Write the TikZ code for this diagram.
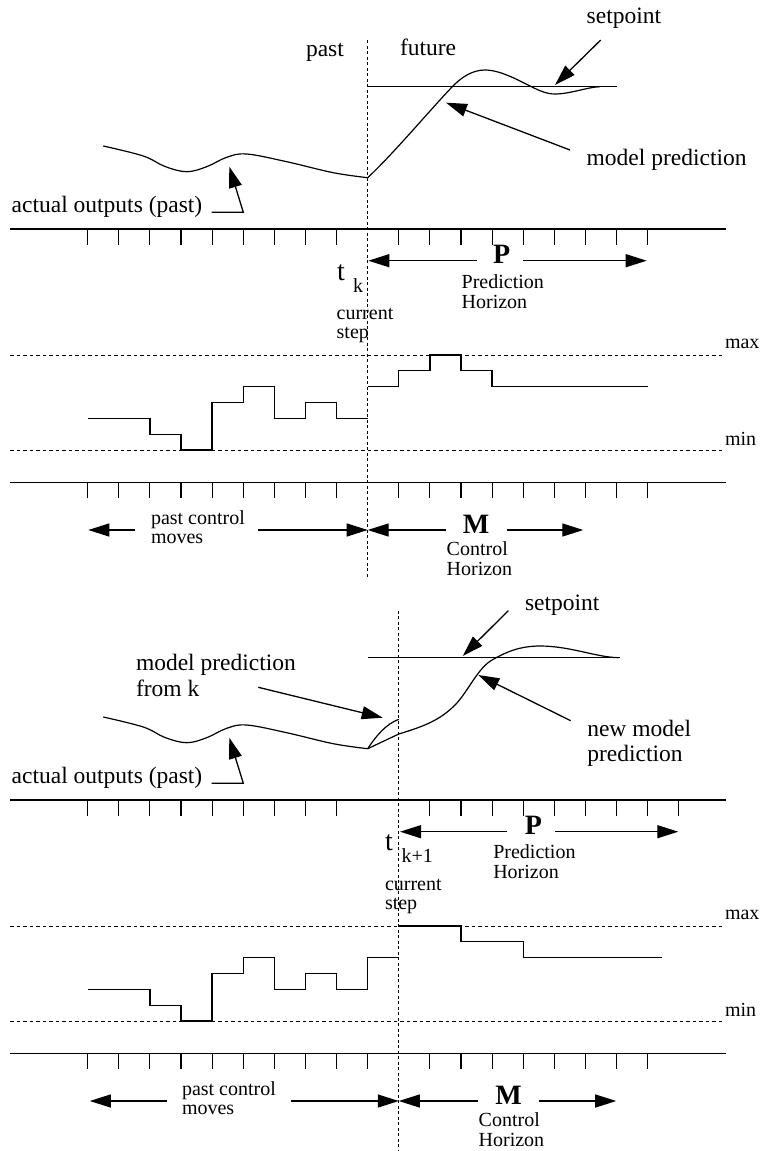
\documentclass[tikz,border=0pt]{standalone}
\usepackage{fontspec}
\setmainfont{Liberation Serif}
\usetikzlibrary{arrows.meta}
\begin{document}
\begin{tikzpicture}[x=1pt,y=-1pt,
  lbl/.style={inner sep=0pt,outer sep=0pt,anchor=base west},
  biglbl/.style={lbl,font=\fontsize{23.5}{26}\selectfont},
  smalllbl/.style={lbl,font=\fontsize{20}{22}\selectfont},
  tlbl/.style={lbl,font=\fontsize{28}{30}\selectfont},
  boldlbl/.style={inner sep=0pt,anchor=base,font=\fontsize{28}{30}\selectfont\bfseries},
  curve/.style={line width=1.2pt},
  axisline/.style={line width=1.5pt},
  tick/.style={line width=1.1pt},
  stair/.style={line width=1.3pt},
  nowline/.style={line width=1pt,dash pattern=on 3pt off 2.5pt},
  limitline/.style={line width=1pt,dash pattern=on 3.5pt off 3pt},
  arr/.style={line width=1.3pt,-{Triangle[length=21pt,width=13pt]}}
]
\useasboundingbox (0,0) rectangle (761,1151);

% ================= PANEL 1 =================
\coordinate (n1top) at (367.7,40);
\coordinate (n1bot) at (367.7,578);
\draw[nowline] (n1top) -- (n1bot);

\node[biglbl] (past1) at (306,56.7) {past};
\node[biglbl] (future1) at (400,55) {future};

% setpoint line
\coordinate (sp1a) at (367.7,86.7);
\coordinate (sp1b) at (616.7,86.7);
\draw[curve] (sp1a) -- (sp1b);

% past output curve
\draw[curve] plot[smooth,tension=0.6] coordinates {(103.3,146) (143.3,156) (165,166.5) (186.7,171.7) (206.7,166.7) (226.7,157.3) (246.7,154) (286.7,161.7) (333.3,172.7) (367.7,177.7)};
% model prediction
\draw[curve] (367.7,177.7) .. controls (395,152) and (430,110) .. (452,87)
  .. controls (462,76.5) and (473,70) .. (485,70)
  .. controls (500,70) and (518,80) .. (532,87)
  .. controls (540,91) and (547,94) .. (555,94)
  .. controls (570,94) and (588,87) .. (600,86.7);

\node[biglbl] (setp1) at (586.7,23.3) {setpoint};
\coordinate (setp1s) at (600.7,40);
\coordinate (setp1t) at (555,85);
\draw[arr] (setp1s) -- (setp1t);

\node[biglbl] (mp1) at (586.7,165.7) {model prediction};
\coordinate (mp1s) at (570,150);
\coordinate (mp1t) at (446,102.7);
\draw[arr] (mp1s) -- (mp1t);

\node[biglbl] (ao1) at (11.7,212.3) {actual outputs (past)};
\coordinate (ao1a) at (211.7,212.3);
\coordinate (ao1b) at (243.3,212.3);
\coordinate (ao1t) at (229.3,166.7);
\draw[arr] (ao1a) -- (ao1b) -- (ao1t);

% time axis
\coordinate (ax1a) at (10,229);
\coordinate (ax1b) at (726,229);
\draw[axisline] (ax1a) -- (ax1b);
\foreach \k in {0,...,8,10,11,...,18}
  \draw[tick] ({87.7+31.11*\k},229) -- ({87.7+31.11*\k},245);

\node[tlbl] (t1) at (337,280) {t};
\node[smalllbl] (k1) at (353,292.7) {k};
\node[smalllbl] (cur1) at (336.7,319) {current};
\node[smalllbl] (stp1) at (336.7,338) {step};

\node[boldlbl] (P1) at (501.7,263.5) {P};
\coordinate (P1l) at (476.7,260.7);
\coordinate (P1lt) at (368.3,260.7);
\coordinate (P1r) at (522.7,260.7);
\coordinate (P1rt) at (646.7,260.7);
\draw[arr] (P1l) -- (P1lt);
\draw[arr] (P1r) -- (P1rt);
\node[smalllbl] (ph1a) at (461.7,288.3) {Prediction};
\node[smalllbl] (ph1b) at (461.7,308) {Horizon};

% limits
\draw[limitline] (10,355) coordinate (mx1a) -- (725,355) coordinate (mx1b);
\draw[limitline] (10,450) coordinate (mn1a) -- (725,450) coordinate (mn1b);
\node[smalllbl] (max1) at (725,348.3) {max};
\node[smalllbl] (min1) at (725,445) {min};

% control moves
\draw[stair] (87.7,418.3) -- (149.9,418.3) -- (149.9,434.2) -- (181,434.2) -- (181,450) -- (212.1,450) -- (212.1,402.5) -- (243.2,402.5) -- (243.2,386.7) -- (274.4,386.7) -- (274.4,418.3) -- (305.5,418.3) -- (305.5,402.5) -- (336.6,402.5) -- (336.6,418.3) -- (367.7,418.3);
\draw[stair] (367.7,386.7) -- (398.8,386.7) -- (398.8,370.8) -- (429.9,370.8) -- (429.9,355) -- (461,355) -- (461,370.8) -- (492.1,370.8) -- (492.1,386.7) -- (647.7,386.7);

\coordinate (cx1a) at (10,482.3);
\coordinate (cx1b) at (726,482.3);
\draw[axisline] (cx1a) -- (cx1b);
\foreach \k in {0,...,8,10,11,...,18}
  \draw[tick] ({87.7+31.11*\k},482.3) -- ({87.7+31.11*\k},498);

\node[smalllbl] (pcm1a) at (151,524.3) {past control};
\node[smalllbl] (pcm1b) at (151,543.3) {moves};
\coordinate (pc1l) at (135,530);
\coordinate (pc1lt) at (88.3,530);
\coordinate (pc1r) at (258.3,530);
\coordinate (pc1rt) at (367.7,530);
\draw[arr] (pc1l) -- (pc1lt);
\draw[arr] (pc1r) -- (pc1rt);

\node[boldlbl] (M1) at (476,533.3) {M};
\coordinate (M1l) at (446,530);
\coordinate (M1lt) at (367.7,530);
\coordinate (M1r) at (506.7,530);
\coordinate (M1rt) at (583.3,530);
\draw[arr] (M1l) -- (M1lt);
\draw[arr] (M1r) -- (M1rt);
\node[smalllbl] (ch1a) at (446.7,555) {Control};
\node[smalllbl] (ch1b) at (446.7,575) {Horizon};

% ================= PANEL 2 =================
\coordinate (n2top) at (398.8,610.7);
\coordinate (n2bot) at (398.8,1151);
\draw[nowline] (n2top) -- (n2bot);

\coordinate (sp2a) at (368.3,657.7);
\coordinate (sp2b) at (620,657.7);
\draw[curve] (sp2a) -- (sp2b);

\draw[curve] plot[smooth,tension=0.6] coordinates {(103.3,717) (143.3,727) (165,737.5) (186.7,742.7) (206.7,737.7) (226.7,728.3) (246.7,725) (286.7,732.7) (333.3,743.7) (367.7,748.7)};
% old prediction from k
\draw[curve] (367.7,748.7) .. controls (376,736) and (386,724) .. (398.8,719.3);
% actual step from k to k+1
\draw[curve] (367.7,748.7) -- (398.8,734);
% new model prediction
\draw[curve] (398.8,734) .. controls (425,726) and (440,720) .. (455,705)
  .. controls (468,692) and (478,667) .. (493.3,659.3)
  .. controls (506,652) and (520,646) .. (540,646)
  .. controls (570,646) and (595,657) .. (618.3,657.7);

\node[biglbl] (setp2) at (525,610.7) {setpoint};
\coordinate (setp2s) at (508.3,610.7);
\coordinate (setp2t) at (462.7,656);
\draw[arr] (setp2s) -- (setp2t);

\node[biglbl] (mpk2a) at (136,670.7) {model prediction};
\node[biglbl] (mpk2b) at (136,696) {from k};
\coordinate (mpk2s) at (258.3,687.3);
\coordinate (mpk2t) at (382.7,717.7);
\draw[arr] (mpk2s) -- (mpk2t);

\node[biglbl] (nmp2a) at (587.3,736.7) {new model};
\node[biglbl] (nmp2b) at (587.3,761.5) {prediction};
\coordinate (nmp2s) at (570.7,720.7);
\coordinate (nmp2t) at (478.3,675);
\draw[arr] (nmp2s) -- (nmp2t);

\node[biglbl] (ao2) at (11.7,783.3) {actual outputs (past)};
\coordinate (ao2a) at (211.7,783.3);
\coordinate (ao2b) at (243.3,783.3);
\coordinate (ao2t) at (229.3,737.7);
\draw[arr] (ao2a) -- (ao2b) -- (ao2t);

\coordinate (ax2a) at (10,800);
\coordinate (ax2b) at (726,800);
\draw[axisline] (ax2a) -- (ax2b);
\foreach \k in {0,...,8,11,12,...,19}
  \draw[tick] ({87.7+31.11*\k},800) -- ({87.7+31.11*\k},816);

\node[tlbl] (t2) at (385,850) {t};
\node[smalllbl] (k2) at (401.7,862.7) {k+1};
\node[smalllbl] (cur2) at (385,890) {current};
\node[smalllbl] (stp2) at (385,909.3) {step};

\node[boldlbl] (P2) at (533.3,834.5) {P};
\coordinate (P2l) at (506.7,831.7);
\coordinate (P2lt) at (400,831.7);
\coordinate (P2r) at (555,831.7);
\coordinate (P2rt) at (678.3,831.7);
\draw[arr] (P2l) -- (P2lt);
\draw[arr] (P2r) -- (P2rt);
\node[smalllbl] (ph2a) at (493.3,858.8) {Prediction};
\node[smalllbl] (ph2b) at (493.3,878.5) {Horizon};

\draw[limitline] (10,926) coordinate (mx2a) -- (725,926) coordinate (mx2b);
\draw[limitline] (10,1021) coordinate (mn2a) -- (725,1021) coordinate (mn2b);
\node[smalllbl] (max2) at (725,919.3) {max};
\node[smalllbl] (min2) at (725,1016) {min};

\draw[stair] (87.7,989.3) -- (149.9,989.3) -- (149.9,1005.2) -- (181,1005.2) -- (181,1021) -- (212.1,1021) -- (212.1,973.5) -- (243.2,973.5) -- (243.2,957.7) -- (274.4,957.7) -- (274.4,989.3) -- (305.5,989.3) -- (305.5,973.5) -- (336.6,973.5) -- (336.6,989.3) -- (367.7,989.3) -- (367.7,957.7) -- (398.8,957.7);
\draw[stair] (398.8,926) -- (461,926) -- (461,941.8) -- (523.2,941.8) -- (523.2,957.7) -- (662,957.7);

\coordinate (cx2a) at (10,1053.3);
\coordinate (cx2b) at (726,1053.3);
\draw[axisline] (cx2a) -- (cx2b);
\foreach \k in {0,...,9,11,12,...,18}
  \draw[tick] ({87.7+31.11*\k},1053.3) -- ({87.7+31.11*\k},1069);

\node[smalllbl] (pcm2a) at (182,1095.3) {past control};
\node[smalllbl] (pcm2b) at (182,1114.3) {moves};
\coordinate (pc2l) at (167.4,1101);
\coordinate (pc2lt) at (89.8,1101);
\coordinate (pc2r) at (291,1101);
\coordinate (pc2rt) at (398.8,1101);
\draw[arr] (pc2l) -- (pc2lt);
\draw[arr] (pc2r) -- (pc2rt);

\node[boldlbl] (M2) at (508.5,1104.3) {M};
\coordinate (M2l) at (478,1101);
\coordinate (M2lt) at (398.8,1101);
\coordinate (M2r) at (538.6,1101);
\coordinate (M2rt) at (616.2,1101);
\draw[arr] (M2l) -- (M2lt);
\draw[arr] (M2r) -- (M2rt);
\node[smalllbl] (ch2a) at (478.7,1126) {Control};
\node[smalllbl] (ch2b) at (478.7,1146) {Horizon};
\end{tikzpicture}
\end{document}
